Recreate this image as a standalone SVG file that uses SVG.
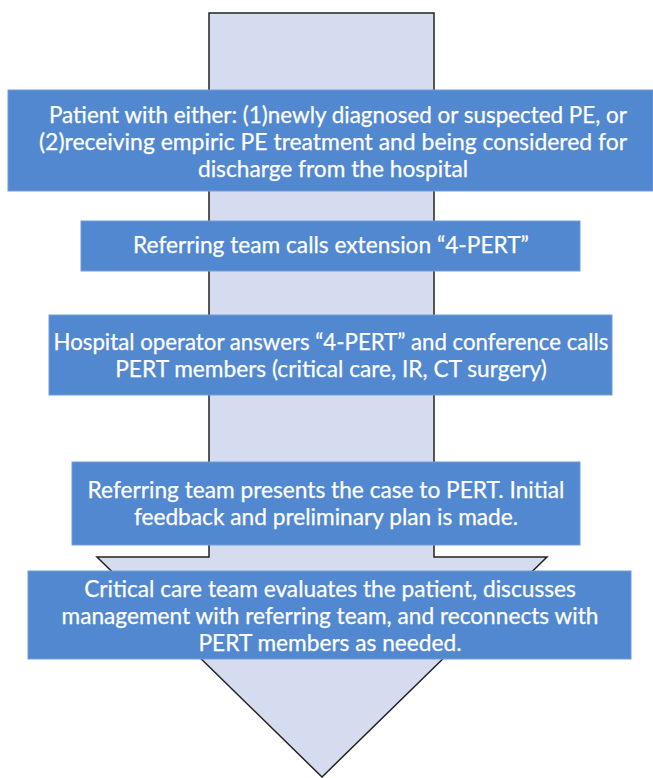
<svg xmlns="http://www.w3.org/2000/svg" width="653" height="778" viewBox="0 0 653 778">
<style>
.box{fill:#5288D0;stroke:#6E9CDA;stroke-width:1}
.t{font-family:Lato,"Open Sans",sans-serif;font-size:22.7px;fill:#ffffff;stroke:#ffffff;stroke-width:0.25;text-anchor:middle}
</style>
<rect width="653" height="778" fill="#ffffff"/>
<g id="connectors">
<path d="M209,13 L434,13 L434,557 L547,557 L322,777 L97,557 L209,557 Z" fill="#D6DCF0" stroke="#222222" stroke-width="1.5" stroke-linejoin="miter"/>
</g>
<g id="node1">
<rect class="box" x="8" y="90" width="645" height="101"/>
<text class="t" x="338" y="123" textLength="578" lengthAdjust="spacingAndGlyphs">Patient with either: (1)newly diagnosed or suspected PE, or</text>
<text class="t" x="333" y="150" textLength="588" lengthAdjust="spacingAndGlyphs">(2)receiving empiric PE treatment and being considered for</text>
<text class="t" x="333" y="177">discharge from the hospital</text>
</g>
<g id="node2">
<rect class="box" x="81" y="221" width="499" height="50"/>
<text class="t" x="331" y="253">Referring team calls extension “4-PERT”</text>
</g>
<g id="node3">
<rect class="box" x="49" y="315" width="563" height="80"/>
<text class="t" x="331" y="350" textLength="555" lengthAdjust="spacingAndGlyphs">Hospital operator answers “4-PERT” and conference calls</text>
<text class="t" x="331" y="377">PERT members (critical care, IR, CT surgery)</text>
</g>
<g id="node4">
<rect class="box" x="72" y="462" width="508" height="83"/>
<text class="t" x="326" y="498">Referring team presents the case to PERT. Initial</text>
<text class="t" x="326" y="525">feedback and preliminary plan is made.</text>
</g>
<g id="node5">
<rect class="box" x="28" y="571" width="603" height="88"/>
<text class="t" x="330" y="597">Critical care team evaluates the patient, discusses</text>
<text class="t" x="330" y="624" textLength="537" lengthAdjust="spacingAndGlyphs">management with referring team, and reconnects with</text>
<text class="t" x="330" y="651">PERT members as needed.</text>
</g>
</svg>
